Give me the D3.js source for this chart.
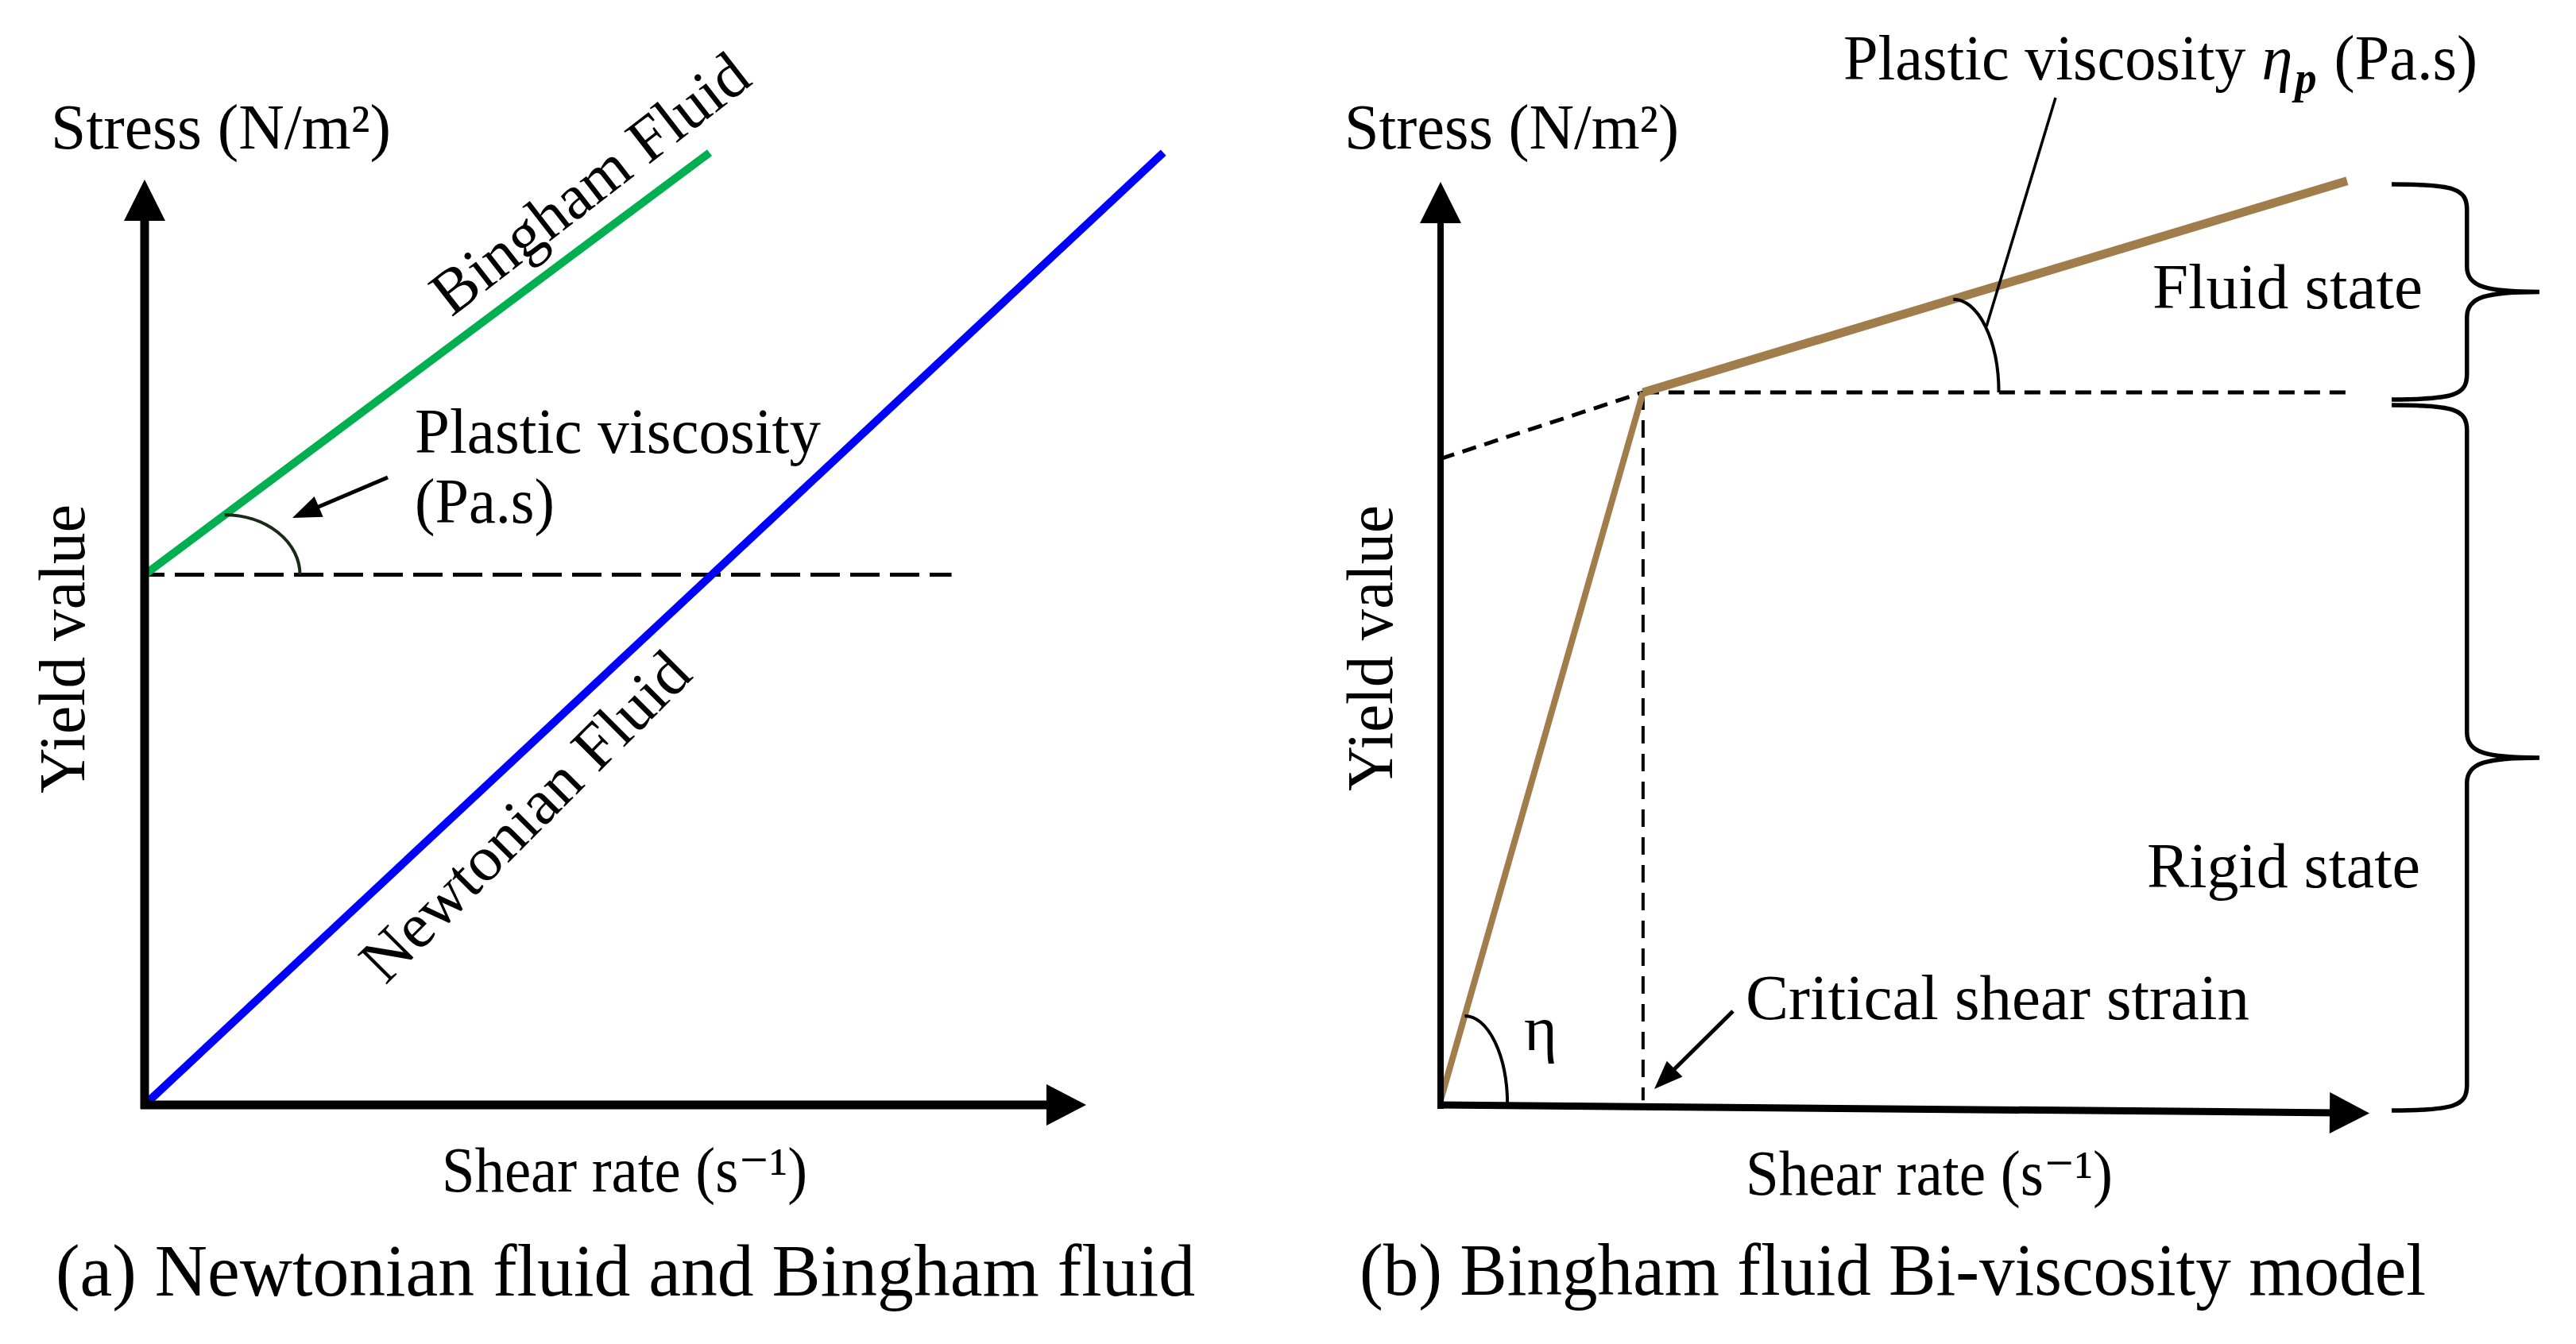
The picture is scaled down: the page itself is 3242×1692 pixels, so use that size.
<!DOCTYPE html>
<html><head><meta charset="utf-8">
<script src="https://cdn.jsdelivr.net/npm/d3@7"></script>
<style>html,body{margin:0;padding:0;background:#fff}</style>
</head><body>
<svg id="chart" width="3242" height="1692" xmlns="http://www.w3.org/2000/svg"></svg>
<script>
// ================= DATA (schematic units, 0-100 on each axis) =================
// Panel (a): Newtonian vs Bingham fluid
const newtonianA = [[0, 0], [108.2, 102.9]];
const binghamA   = [[0, 57.3], [60.0, 102.9]];
const yieldA = 57.3;              // yield value (dashed reference)
const yieldLineEndA = 85.7;       // extent of the dashed yield line
const viscArcA = {lineX: 8.5, endX: 16.5};   // plastic viscosity angle mark

// Panel (b): Bingham fluid bi-viscosity model
const biviscB = [[0, 0.5], [21.8, 77.2], [97.6, 100.1]];
const interceptB = 70.0;          // extrapolated yield intercept
const criticalStrainB = 21.8;
const yieldB = 77.2;
const viscArcB = {lineX: 55.2, endX: 60.1};  // eta_p angle mark
const etaArcB  = {lineX: 2.6, endX: 7.2};    // eta angle mark
const braceSpans = [
  {label: "Fluid state", from: yieldB, to: 100},
  {label: "Rigid state", from: 0, to: yieldB}
];

// ================= LAYOUT =================
const svg = d3.select("#chart");
const FONT = "'Liberation Serif','DejaVu Serif','Times New Roman',serif";
const LS = 80, CS = 94;

const xA = d3.scaleLinear().domain([0, 100]).range([182, 1367]);
const yA = d3.scaleLinear().domain([0, 100]).range([1391, 226]);
const xB = d3.scaleLinear().domain([0, 100]).range([1813, 2982]);
const yB = d3.scaleLinear().domain([0, 100]).range([1391, 229]);

function tri(tip, from, len, half) {
  const dx = tip[0] - from[0], dy = tip[1] - from[1];
  const L = Math.hypot(dx, dy), ux = dx / L, uy = dy / L;
  const bx = tip[0] - ux * len, by = tip[1] - uy * len;
  return [[tip[0], tip[1]], [bx - uy * half, by + ux * half], [bx + uy * half, by - ux * half]];
}
function arrow(g, from, tip, width, len, half) {
  const d = Math.hypot(tip[0]-from[0], tip[1]-from[1]);
  const ux = (tip[0]-from[0])/d, uy = (tip[1]-from[1])/d;
  g.append("line").attr("x1", from[0]).attr("y1", from[1])
    .attr("x2", tip[0] - ux*len*0.8).attr("y2", tip[1] - uy*len*0.8)
    .attr("stroke", "#000").attr("stroke-width", width);
  g.append("polygon").attr("points", tri(tip, from, len, half).map(p => p.join(",")).join(" "))
    .attr("fill", "#000");
}
function quarterArc(g, s, e, width, color) {
  const rx = Math.abs(e[0] - s[0]), ry = Math.abs(e[1] - s[1]);
  g.append("path").attr("d", `M${s[0]},${s[1]} A${rx},${ry} 0 0 1 ${e[0]},${e[1]}`)
    .attr("fill", "none").attr("stroke", color).attr("stroke-width", width);
}
function label(g, x, y, size, length, text, opts = {}) {
  const t = g.append("text").attr("x", x).attr("y", y)
    .attr("font-family", FONT).attr("font-size", size).attr("fill", "#000")
    .attr("text-anchor", opts.anchor || "start").text(text);
  if (length) t.attr("textLength", length).attr("lengthAdjust", "spacingAndGlyphs");
  if (opts.transform) t.attr("transform", opts.transform);
  return t;
}
// rich label: separate text pieces laid end to end (with gaps), stretched to a total width
function richLabel(g, x, y, total, parts) {
  const nodes = parts.map(p => {
    const t = g.append("text").attr("y", y + (p.dy || 0))
      .attr("font-family", FONT).attr("font-size", p.size).attr("fill", "#000").text(p.t);
    if (p.italic) t.attr("font-style", "italic");
    if (p.bold) t.attr("font-weight", "bold");
    return {t, w: t.node().getComputedTextLength(), gap: p.gap || 0};
  });
  const gaps = d3.sum(nodes, n => n.gap);
  const k = (total - gaps) / d3.sum(nodes, n => n.w);
  let cx = x;
  nodes.forEach(n => {
    cx += n.gap;
    n.t.attr("x", cx).attr("textLength", n.w * k).attr("lengthAdjust", "spacingAndGlyphs");
    cx += n.w * k;
  });
}
const line = (xs, ys) => d3.line().x(d => xs(d[0])).y(d => ys(d[1]));

// ================= PANEL (a) =================
const gA = svg.append("g");
gA.append("line").attr("x1", xA(0)).attr("y1", yA(yieldA)).attr("x2", xA(yieldLineEndA)).attr("y2", yA(yieldA))
  .attr("stroke", "#000").attr("stroke-width", 5).attr("stroke-dasharray", "37,13").attr("stroke-dashoffset", 12);
gA.append("path").datum(binghamA).attr("d", line(xA, yA)).attr("fill", "none")
  .attr("stroke", "#00B050").attr("stroke-width", 10);
gA.append("path").datum(newtonianA).attr("d", line(xA, yA)).attr("fill", "none")
  .attr("stroke", "#0000FF").attr("stroke-width", 10);
gA.append("line").attr("x1", xA(0)).attr("y1", yA(0) + 5).attr("x2", xA(0)).attr("y2", yA(100) + 40)
  .attr("stroke", "#000").attr("stroke-width", 11);
gA.append("polygon").attr("points", tri([xA(0), yA(100)], [xA(0), yA(0)], 52, 26).map(p => p.join(",")).join(" "));
gA.append("line").attr("x1", xA(0) - 5).attr("y1", yA(0)).attr("x2", xA(100) - 40).attr("y2", yA(0))
  .attr("stroke", "#000").attr("stroke-width", 11);
gA.append("polygon").attr("points", tri([xA(100), yA(0)], [xA(0), yA(0)], 50, 26).map(p => p.join(",")).join(" "));
const slopeA = (binghamA[1][1] - binghamA[0][1]) / (binghamA[1][0] - binghamA[0][0]);
quarterArc(gA, [xA(viscArcA.lineX), yA(binghamA[0][1] + slopeA * viscArcA.lineX)],
  [xA(viscArcA.endX), yA(yieldA)], 4, "#1b2a17");
arrow(gA, [488, 601], [368, 652], 5, 36, 14);
label(gA, 64, 187, LS, 428, "Stress (N/m²)");
label(gA, 568, 400, LS, 482, "Bingham Fluid", {transform: "rotate(-37.8,568,400)"});
label(gA, 485, 1241, LS, 550, "Newtonian Fluid", {transform: "rotate(-45,485,1241)"});
label(gA, 522, 570, LS, 511, "Plastic viscosity");
label(gA, 522, 658, LS, 176, "(Pa.s)");
label(gA, 106, 817, LS + 2, 364, "Yield value", {anchor: "middle", transform: "rotate(-90,106,817)"});
label(gA, 556, 1500, LS, 460, "Shear rate (s⁻¹)");
label(gA, 70, 1631, CS, 1434, "(a) Newtonian fluid and Bingham fluid");

// ================= PANEL (b) =================
const gB = svg.append("g");
gB.append("line").attr("x1", xB(0)).attr("y1", yB(interceptB)).attr("x2", xB(criticalStrainB)).attr("y2", yB(yieldB))
  .attr("stroke", "#000").attr("stroke-width", 5).attr("stroke-dasharray", "18,11");
gB.append("line").attr("x1", xB(criticalStrainB)).attr("y1", yB(yieldB)).attr("x2", xB(biviscB[2][0])).attr("y2", yB(yieldB))
  .attr("stroke", "#000").attr("stroke-width", 5).attr("stroke-dasharray", "20,12");
gB.append("line").attr("x1", xB(criticalStrainB)).attr("y1", yB(yieldB)).attr("x2", xB(criticalStrainB)).attr("y2", yB(0.5))
  .attr("stroke", "#000").attr("stroke-width", 4).attr("stroke-dasharray", "22,13");
gB.append("path").datum(biviscB.slice(0, 2)).attr("d", line(xB, yB)).attr("fill", "none")
  .attr("stroke", "#A27D4C").attr("stroke-width", 8);
gB.append("path").datum(biviscB.slice(1)).attr("d", line(xB, yB)).attr("fill", "none")
  .attr("stroke", "#A27D4C").attr("stroke-width", 11).attr("stroke-linecap", "butt");
gB.append("line").attr("x1", xB(0)).attr("y1", yB(0) + 5).attr("x2", xB(0)).attr("y2", yB(100) + 40)
  .attr("stroke", "#000").attr("stroke-width", 8);
gB.append("polygon").attr("points", tri([xB(0), yB(100)], [xB(0), yB(0)], 52, 26).map(p => p.join(",")).join(" "));
const xTipB = [xB(100), yB(-0.9)], xStartB = [xB(0) - 4, yB(0)];
gB.append("line").attr("x1", xStartB[0]).attr("y1", xStartB[1]).attr("x2", xB(100) - 40).attr("y2", yB(-0.85))
  .attr("stroke", "#000").attr("stroke-width", 9);
gB.append("polygon").attr("points", tri(xTipB, xStartB, 50, 26).map(p => p.join(",")).join(" "));
const slopeB = (biviscB[2][1] - biviscB[1][1]) / (biviscB[2][0] - biviscB[1][0]);
quarterArc(gB, [xB(viscArcB.lineX), yB(yieldB + slopeB * (viscArcB.lineX - criticalStrainB))],
  [xB(viscArcB.endX), yB(yieldB)], 4, "#000");
const slope0 = (biviscB[1][1] - biviscB[0][1]) / (biviscB[1][0] - biviscB[0][0]);
quarterArc(gB, [xB(etaArcB.lineX), yB(biviscB[0][1] + slope0 * etaArcB.lineX)],
  [xB(etaArcB.endX), yB(0)], 4, "#000");
gB.append("line").attr("x1", 2587).attr("y1", 123).attr("x2", 2500).attr("y2", 411)
  .attr("stroke", "#000").attr("stroke-width", 3.5);
arrow(gB, [2181, 1273], [2082, 1371], 5, 36, 14);
function brace(g, y0, y1, xEnd, xSpine, xTip) {
  const ym = (y0 + y1) / 2, r = 32;
  const d = `M${xEnd},${y0} C${xSpine - 15},${y0} ${xSpine},${y0 + 6} ${xSpine},${y0 + r}
    L${xSpine},${ym - r} C${xSpine},${ym - 6} ${xSpine + 25},${ym} ${xTip},${ym}
    C${xSpine + 25},${ym} ${xSpine},${ym + 6} ${xSpine},${ym + r}
    L${xSpine},${y1 - r} C${xSpine},${y1 - 6} ${xSpine - 15},${y1} ${xEnd},${y1}`;
  g.append("path").attr("d", d).attr("fill", "none").attr("stroke", "#000").attr("stroke-width", 5.5);
}
braceSpans.forEach((s, i) => {
  const top = yB(s.to) + (i === 0 ? 3 : 16), bot = yB(s.from) + (i === 0 ? 9 : 7);
  brace(gB, top, bot, xB(102.4), xB(110.5), xB(118.3));
});
label(gB, 1692, 187, LS, 421, "Stress (N/m²)");
richLabel(gB, 2320, 100, 798, [
  {t: "Plastic viscosity", size: LS},
  {t: "η", size: LS, italic: true, gap: 20},
  {t: "p", size: 56, italic: true, bold: true, dy: 17, gap: 3},
  {t: "(Pa.s)", size: LS, gap: 22}
]);
label(gB, 2709, 388, LS, 340, braceSpans[0].label);
label(gB, 2702, 1117, LS, 344, braceSpans[1].label);
label(gB, 2197, 1283, LS, 634, "Critical shear strain");
label(gB, 1918, 1322, LS, null, "η");
label(gB, 1752, 816, LS + 2, 360, "Yield value", {anchor: "middle", transform: "rotate(-90,1752,816)"});
label(gB, 2197, 1504, LS, 462, "Shear rate (s⁻¹)");
label(gB, 1711, 1630, CS, 1342, "(b) Bingham fluid Bi-viscosity model");
</script>
</body></html>
